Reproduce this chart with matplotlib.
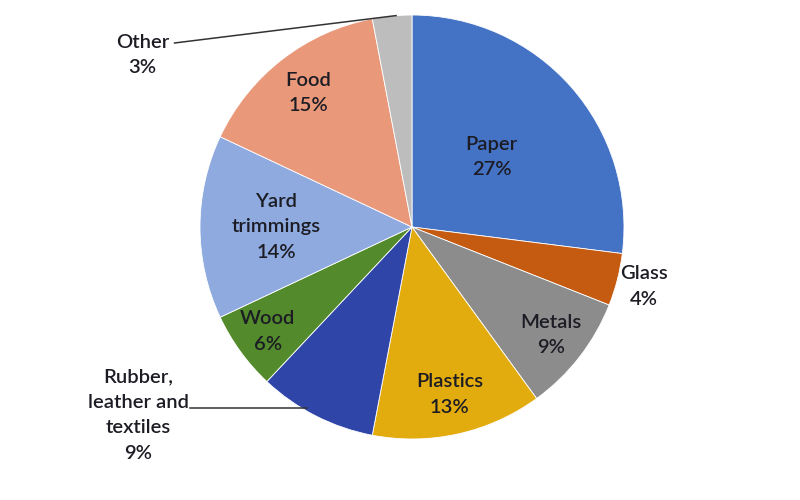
import numpy as np
import matplotlib.pyplot as plt

categories = ['Paper', 'Glass', 'Metals', 'Plastics', 'Rubber,\nleather and\ntextiles',
              'Wood', 'Yard\ntrimmings', 'Food', 'Other']
shares = [27, 4, 9, 13, 9, 6, 14, 15, 3]
colors = ['#4472C4', '#C55A11', '#8C8C8C', '#E3AC0E', '#2F45A8',
          '#528A2C', '#8FAADF', '#E9987A', '#BDBDBD']
# label radius (fraction of pie radius) for the labels sitting on the wedges
label_r = [0.5, 1.13, 0.83, 0.81, None, 0.84, 0.64, 0.8, None]

plt.rcParams['font.family'] = ['Lato', 'DejaVu Sans']

fig = plt.figure(figsize=(8, 5), dpi=100)
ax = fig.add_axes([0.25, 0.122, 0.53, 0.848])
wedges, _ = ax.pie(shares, colors=colors, startangle=90, counterclock=False,
                   radius=1.0, wedgeprops=dict(edgecolor='white', linewidth=0.6))
ax.set_xlim(-1, 1)
ax.set_ylim(-1, 1)
ax.set_aspect('equal')
ax.axis('off')

txt = dict(fontsize=14.5, color='#1c1c24', ha='center', va='center',
           linespacing=1.6, fontweight='semibold')

for w, name, val, r in zip(wedges, categories, shares, label_r):
    if r is None:
        continue
    mid = np.deg2rad((w.theta1 + w.theta2) / 2)
    ax.text(r * np.cos(mid), r * np.sin(mid), f'{name}\n{val}%', **txt)

# Other: label outside with leader line
w = wedges[8]
a = np.deg2rad(w.theta1 + 0.4 * (w.theta2 - w.theta1))
ax.text(-1.27, 0.81, f'{categories[8]}\n{shares[8]}%', clip_on=False, **txt)
ax.plot([-1.12, np.cos(a)], [0.868, np.sin(a)], color='#333333', lw=1.1, clip_on=False)

# Rubber: label outside with horizontal leader line
ly = -0.856
ax.text(-1.29, -0.887, f'{categories[4]}\n{shares[4]}%', clip_on=False, **txt)
ax.plot([-1.045, -np.sqrt(1 - ly ** 2) + 0.02], [ly, ly], color='#333333', lw=1.1, clip_on=False)

fig.savefig('out.png', dpi=100)
